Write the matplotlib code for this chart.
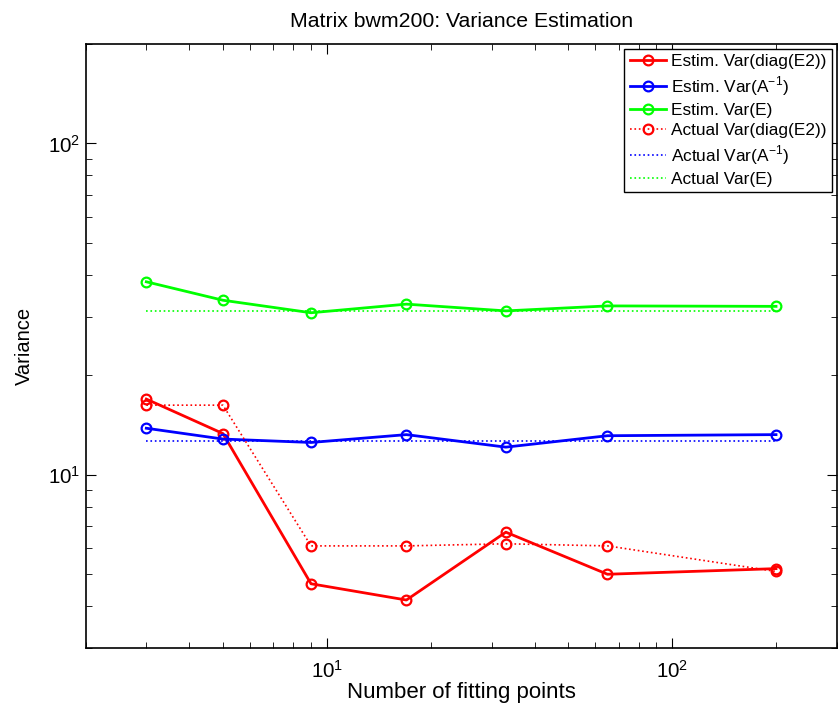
import numpy as np
import matplotlib.pyplot as plt

# number of fitting points
npts = [3, 5, 9, 17, 33, 65, 200]

est_diag = [16.9, 13.3, 4.68, 4.18, 6.70, 5.00, 5.20]
est_ainv = [13.8, 12.8, 12.5, 13.2, 12.1, 13.1, 13.2]
est_e = [38.2, 33.6, 30.8, 32.7, 31.2, 32.3, 32.2]

act_diag = [16.2, 16.2, 6.09, 6.09, 6.18, 6.09, 5.10]
act_ainv = [12.6, 12.6, 12.6, 12.6, 12.6, 12.6, 12.6]
act_e = [31.2, 31.2, 31.2, 31.2, 31.2, 31.2, 31.2]

plt.rcParams['font.family'] = ['Liberation Sans', 'DejaVu Sans']
plt.rcParams['mathtext.fontset'] = 'custom'
plt.rcParams['mathtext.rm'] = 'Liberation Sans'

fig = plt.figure(figsize=(8.4, 7.1), dpi=100)
ax = fig.add_axes([0.1018, 0.0877, 0.8944, 0.8508])

mk = dict(marker='o', mfc='none', ms=7, mew=1.6)
ax.loglog(npts, est_diag, '-', color='#ff0000', lw=2, label='Estim. Var(diag(E2))', **mk)
ax.loglog(npts, est_ainv, '-', color='#0000ff', lw=2, label='Estim. Var(A$^{-1}$)', **mk)
ax.loglog(npts, est_e, '-', color='#00ff00', lw=2, label='Estim. Var(E)', **mk)
ax.loglog(npts, act_diag, ':', color='#ff0000', lw=1.2, label='Actual Var(diag(E2))', **mk)
ax.loglog(npts, act_ainv, ':', color='#0000ff', lw=1.2, label='Actual Var(A$^{-1}$)')
ax.loglog(npts, act_e, ':', color='#00ff00', lw=1.2, label='Actual Var(E)')

ax.set_xlim(2, 300)
ax.set_ylim(3, 200)
ax.set_title('Matrix bwm200: Variance Estimation', fontsize=15.3, pad=12)
ax.set_xlabel('Number of fitting points', fontsize=16, labelpad=0)
ax.set_ylabel('Variance', fontsize=14.5, labelpad=10)

ax.tick_params(which='both', direction='in', top=True, right=True, labelsize=14.8)
ax.tick_params(axis='x', which='major', pad=9)
ax.tick_params(which='major', length=7, width=0.8)
ax.tick_params(which='minor', length=4, width=0.6)
for s in ax.spines.values():
    s.set_linewidth(1.2)

leg = ax.legend(loc='upper right', fontsize=12.4, frameon=True, fancybox=False,
                edgecolor='black', framealpha=1, borderaxespad=0.3,
                handlelength=2.1, handletextpad=0.3, labelspacing=0.3,
                borderpad=0.3)
leg.get_frame().set_linewidth(1.0)

fig.savefig('out.png', dpi=100)
